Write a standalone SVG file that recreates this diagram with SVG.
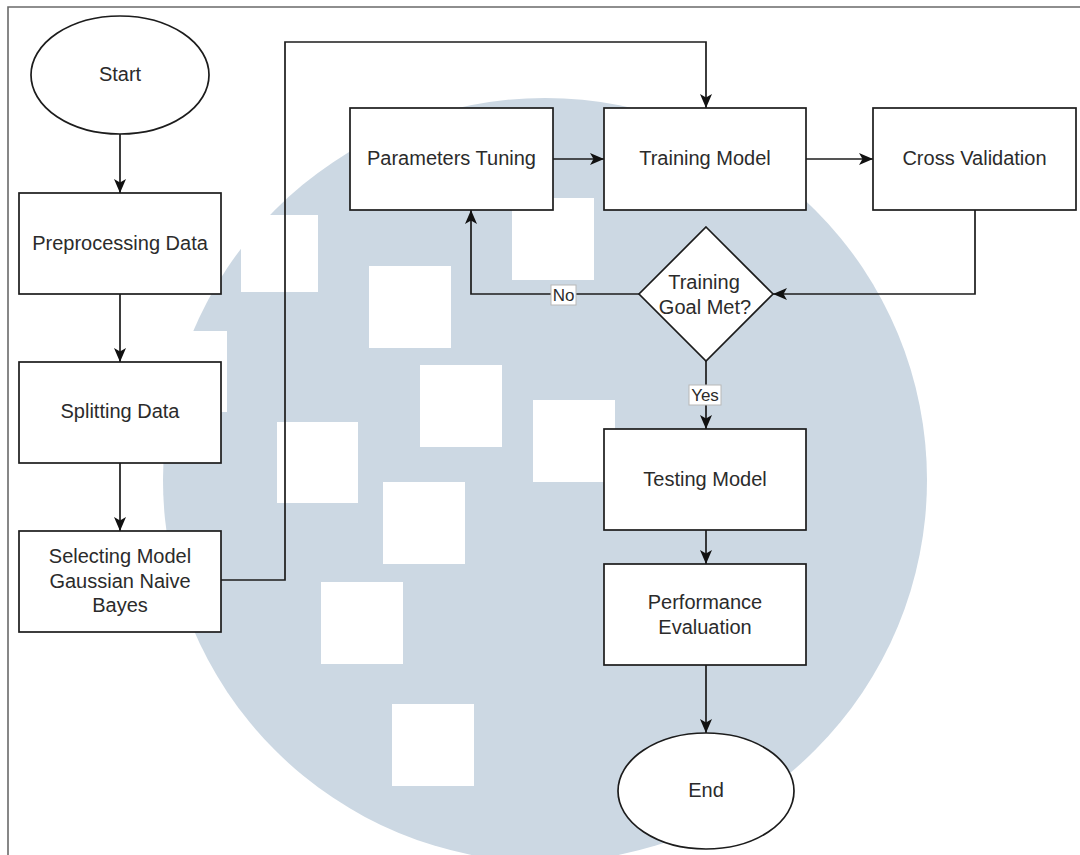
<svg xmlns="http://www.w3.org/2000/svg" width="1080" height="855" viewBox="0 0 1080 855">
  <style>
    .node { fill: #ffffff; stroke: #1c1c1c; stroke-width: 1.7; }
    .lbl { font-family: "Liberation Sans", Arial, sans-serif; font-size: 20px; fill: #2b2b2b; text-anchor: middle; dominant-baseline: central; }
    .edge { fill: none; stroke: #1c1c1c; stroke-width: 1.7; }
    .tag { fill: #ffffff; stroke: #b8b8b8; stroke-width: 1; }
    .tagtxt { font-family: "Liberation Sans", Arial, sans-serif; font-size: 17px; fill: #2b2b2b; text-anchor: middle; dominant-baseline: central; }
    .cut { fill: #ffffff; }
  </style>
  <defs>
    <marker id="arrow" markerUnits="userSpaceOnUse" markerWidth="14" markerHeight="13" viewBox="0 0 14 13" refX="14" refY="6.5" orient="auto">
      <path d="M0,0.5 L14,6.5 L0,12.5 L3.5,6.5 z" fill="#111111"/>
    </marker>
  </defs>

  <rect x="0" y="0" width="1080" height="855" fill="#ffffff"/>

  <!-- background emblem: disc with square cut-outs -->
  <g id="emblem">
    <circle cx="545" cy="480" r="382" fill="#ccd8e3"/>
    <rect class="cut" x="241" y="215" width="77" height="77"/>
    <rect class="cut" x="150" y="331" width="77" height="81"/>
    <rect class="cut" x="369" y="266" width="82" height="82"/>
    <rect class="cut" x="512" y="198" width="82" height="82"/>
    <rect class="cut" x="420" y="365" width="82" height="82"/>
    <rect class="cut" x="533" y="400" width="82" height="82"/>
    <rect class="cut" x="277" y="422" width="81" height="81"/>
    <rect class="cut" x="383" y="482" width="82" height="82"/>
    <rect class="cut" x="321" y="582" width="82" height="82"/>
    <rect class="cut" x="392" y="704" width="82" height="82"/>
  </g>

  <!-- page frame -->
  <path d="M8,855 V7 H1080" fill="none" stroke="#6a6a6a" stroke-width="1.6"/>

  <!-- connectors -->
  <g id="connectors">
    <path class="edge" d="M120,134 V193" marker-end="url(#arrow)"/>
    <path class="edge" d="M120,294 V362" marker-end="url(#arrow)"/>
    <path class="edge" d="M120,463 V531" marker-end="url(#arrow)"/>
    <path class="edge" d="M221,580 H285 V42 H706 V108" marker-end="url(#arrow)"/>
    <path class="edge" d="M553,159 H604" marker-end="url(#arrow)"/>
    <path class="edge" d="M806,159 H873" marker-end="url(#arrow)"/>
    <path class="edge" d="M975,210 V294 H773" marker-end="url(#arrow)"/>
    <path class="edge" d="M639,294 H471 V210" marker-end="url(#arrow)"/>
    <path class="edge" d="M706,361 V429" marker-end="url(#arrow)"/>
    <path class="edge" d="M706,530 V564" marker-end="url(#arrow)"/>
    <path class="edge" d="M706,665 V733" marker-end="url(#arrow)"/>
    <g id="label-no">
      <rect class="tag" x="551" y="285" width="25" height="20"/>
      <text class="tagtxt" x="563.5" y="295.5">No</text>
    </g>
    <g id="label-yes">
      <rect class="tag" x="689" y="385" width="32" height="20"/>
      <text class="tagtxt" x="705" y="395.5">Yes</text>
    </g>
  </g>

  <!-- nodes -->
  <g id="start">
    <ellipse class="node" cx="120" cy="75" rx="89" ry="59"/>
    <text class="lbl" x="120" y="74">Start</text>
  </g>
  <g id="preprocessing">
    <rect class="node" x="19" y="193" width="202" height="101"/>
    <text class="lbl" x="120" y="243">Preprocessing Data</text>
  </g>
  <g id="splitting">
    <rect class="node" x="19" y="362" width="202" height="101"/>
    <text class="lbl" x="120" y="411">Splitting Data</text>
  </g>
  <g id="selecting">
    <rect class="node" x="19" y="531" width="202" height="101"/>
    <text class="lbl" x="120" y="556">Selecting Model</text>
    <text class="lbl" x="120" y="580.5">Gaussian Naive</text>
    <text class="lbl" x="120" y="605">Bayes</text>
  </g>
  <g id="tuning">
    <rect class="node" x="350" y="108" width="203" height="102"/>
    <text class="lbl" x="451.5" y="158">Parameters Tuning</text>
  </g>
  <g id="training">
    <rect class="node" x="604" y="108" width="202" height="102"/>
    <text class="lbl" x="705" y="158">Training Model</text>
  </g>
  <g id="validation">
    <rect class="node" x="873" y="108" width="203" height="102"/>
    <text class="lbl" x="974.5" y="158">Cross Validation</text>
  </g>
  <g id="goal">
    <polygon class="node" points="706,227 773,294 706,361 639,294"/>
    <text class="lbl" x="704" y="282">Training</text>
    <text class="lbl" x="705" y="306.5">Goal Met?</text>
  </g>
  <g id="testing">
    <rect class="node" x="604" y="429" width="202" height="101"/>
    <text class="lbl" x="705" y="479">Testing Model</text>
  </g>
  <g id="evaluation">
    <rect class="node" x="604" y="564" width="202" height="101"/>
    <text class="lbl" x="705" y="602">Performance</text>
    <text class="lbl" x="705" y="627">Evaluation</text>
  </g>
  <g id="end">
    <ellipse class="node" cx="706" cy="791" rx="88" ry="58"/>
    <text class="lbl" x="706" y="790">End</text>
  </g>
</svg>
